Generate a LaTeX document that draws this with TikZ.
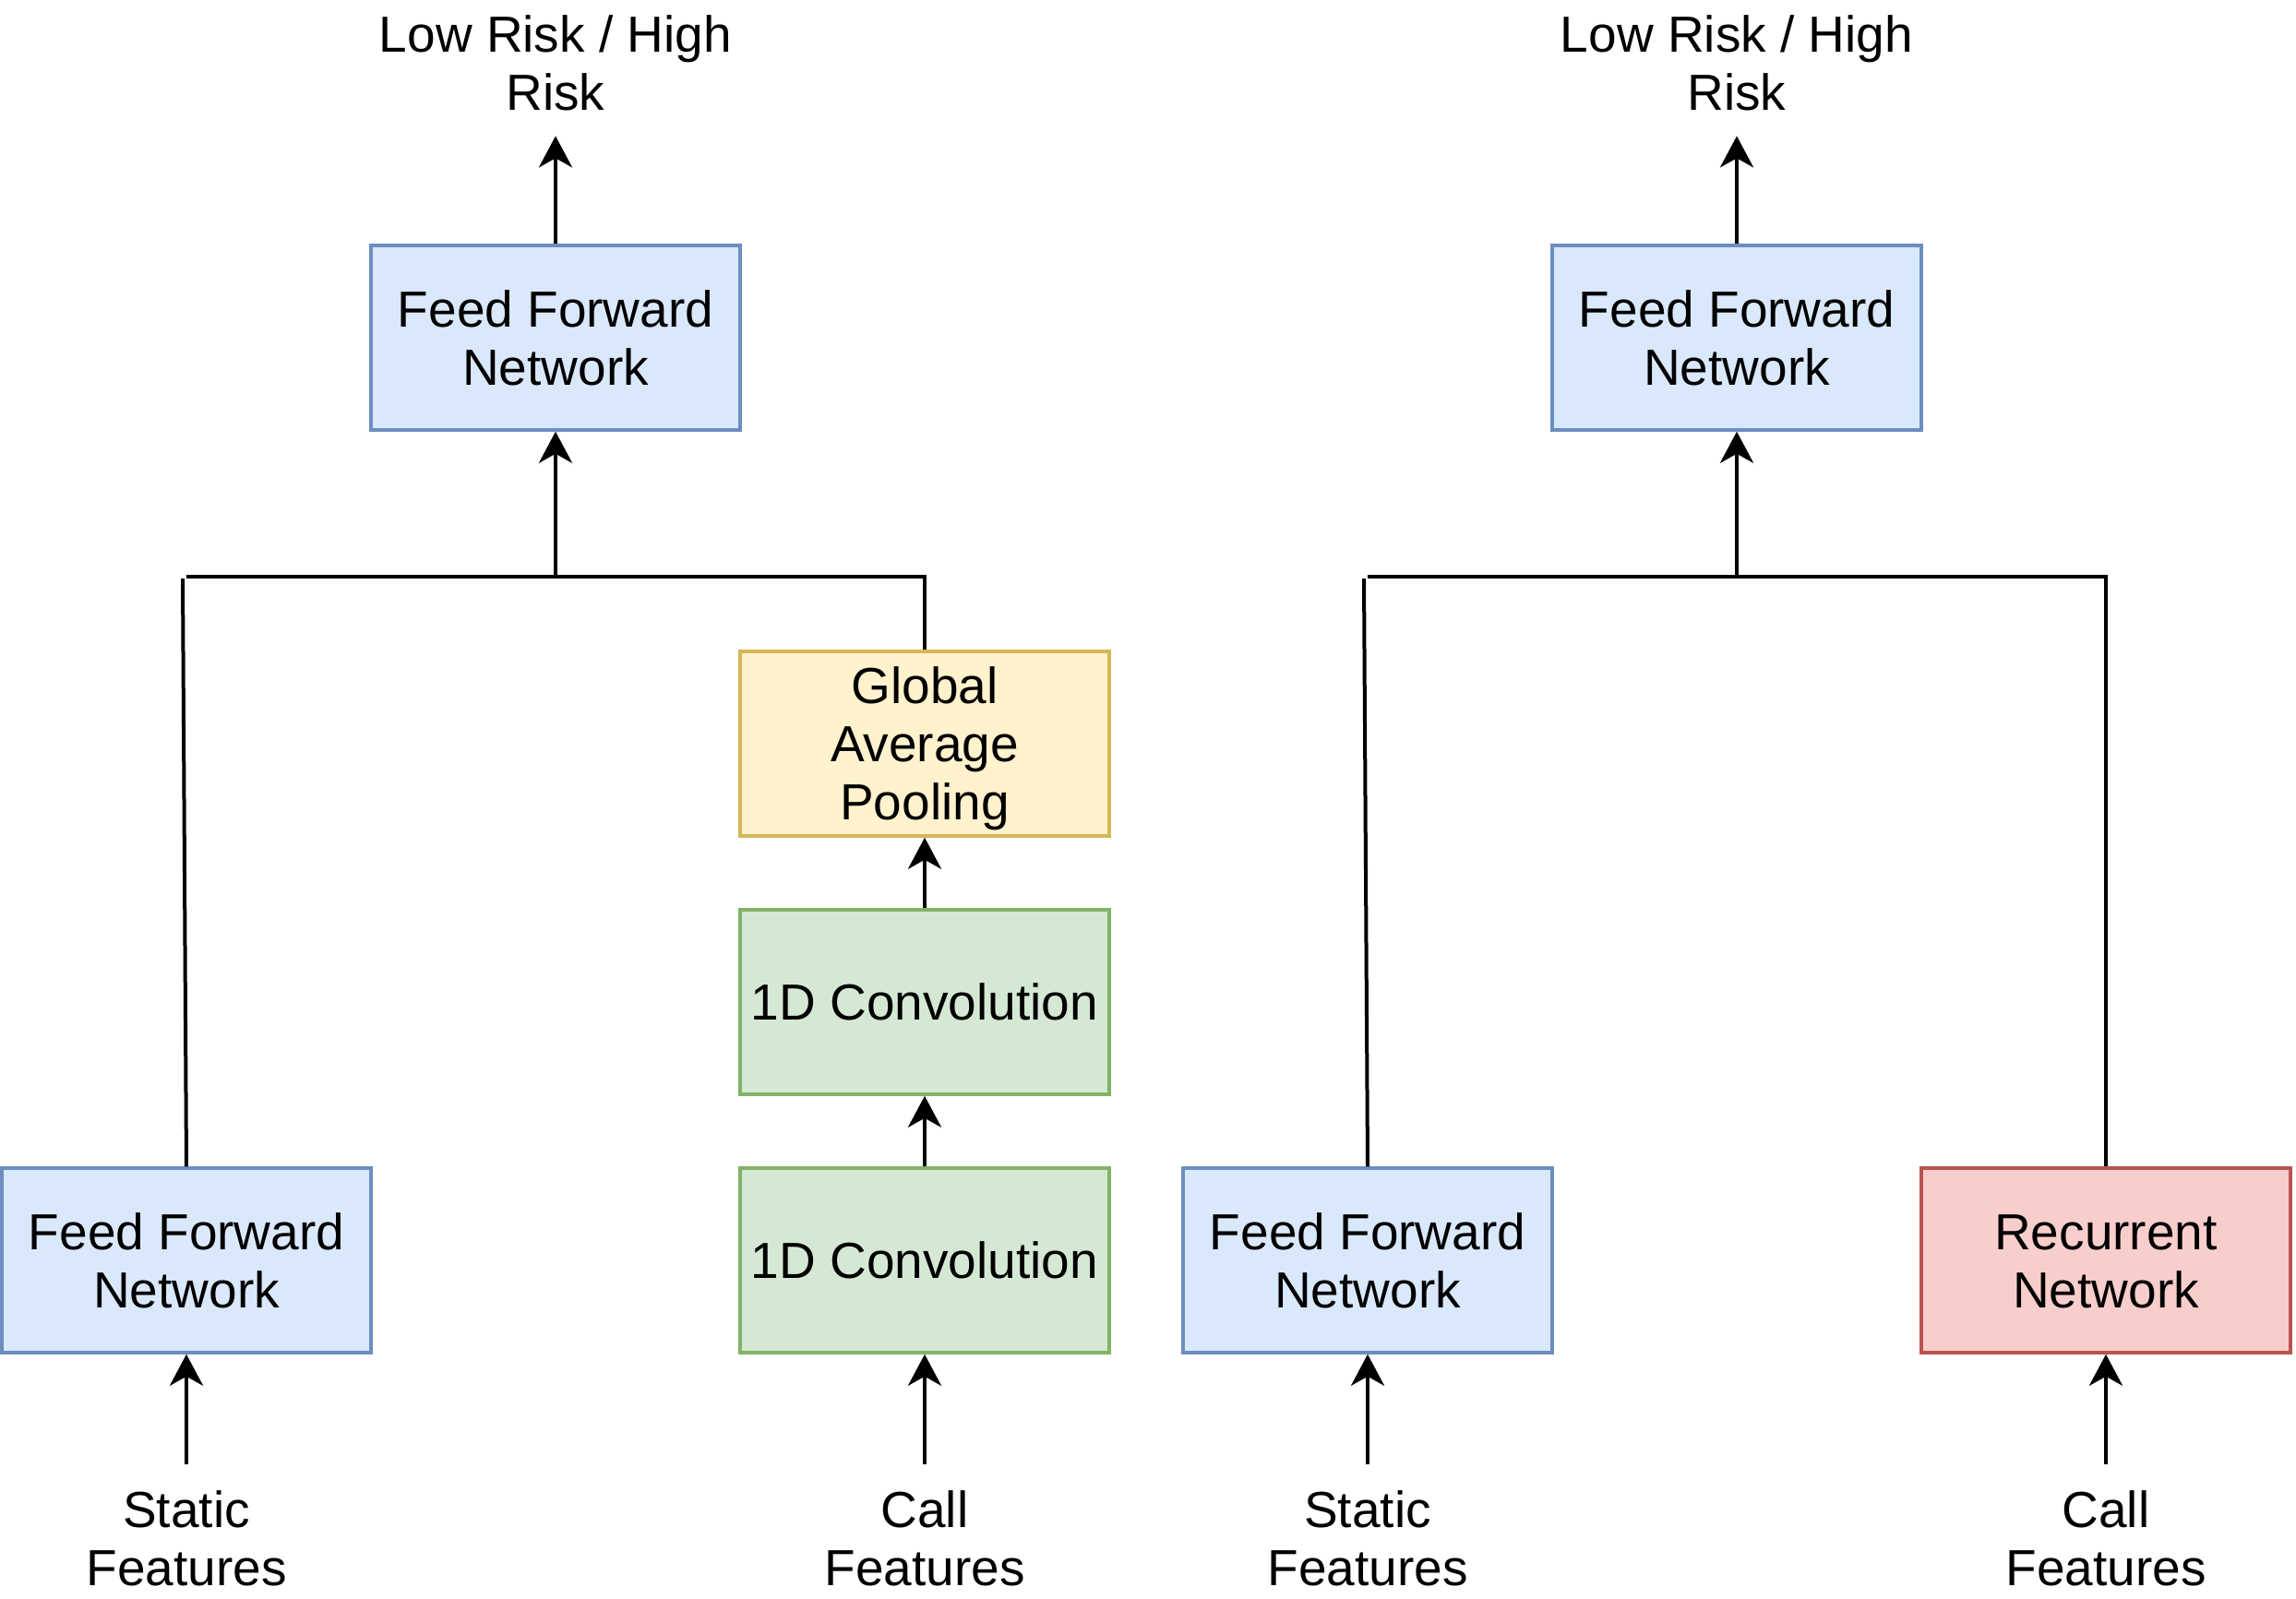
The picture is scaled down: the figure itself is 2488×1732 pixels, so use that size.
\documentclass[tikz,border=0pt]{standalone}
\usepackage{fontspec}
\setmainfont{Liberation Sans}
\usetikzlibrary{arrows.meta}
\definecolor{blueFill}{HTML}{DAE8FC}
\definecolor{blueDraw}{HTML}{6C8EBF}
\definecolor{yellowFill}{HTML}{FFF2CC}
\definecolor{yellowDraw}{HTML}{D6B656}
\definecolor{greenFill}{HTML}{D5E8D4}
\definecolor{greenDraw}{HTML}{82B366}
\definecolor{redFill}{HTML}{F8CECC}
\definecolor{redDraw}{HTML}{B85450}
\newcommand{\lnTop}{\rule{0pt}{51pt}}
\newcommand{\lnBot}{\rule[-12pt]{0pt}{12pt}}
\begin{document}
\begin{tikzpicture}[x=1pt,y=-1pt,
  box/.style={draw, line width=3.5pt, minimum width=400pt, minimum height=200pt,
    inner sep=0pt, align=center, font=\fontsize{55}{63}\selectfont},
  ffn/.style={box, fill=blueFill, draw=blueDraw},
  gapbox/.style={box, fill=yellowFill, draw=yellowDraw},
  convbox/.style={box, fill=greenFill, draw=greenDraw},
  rnnbox/.style={box, fill=redFill, draw=redDraw},
  lbl/.style={inner sep=0pt, align=center, font=\fontsize{55}{63}\selectfont},
  conn/.style={line width=4pt},
  arr/.style={conn, -{Stealth[length=34pt,width=36pt,inset=10pt]}},
]
\useasboundingbox (0,0) rectangle (2488,1732);

% ---------- left model ----------
\node[ffn] (ffnL) at (602,366) {\lnTop Feed Forward\\Network\lnBot};
\node[lbl] (outL) at (602,68.5) {Low Risk / High\\Risk};
\node[ffn] (sffL) at (202,1366) {\lnTop Feed Forward\\Network\lnBot};
\node[gapbox] (gapL) at (1002,806) {\lnTop Global\\Average\\Pooling\lnBot};
\node[convbox] (conv1) at (1002,1086) {\lnTop 1D Convolution\lnBot};
\node[convbox] (conv2) at (1002,1366) {\lnTop 1D Convolution\lnBot};
\node[lbl] (stL) at (202,1667.5) {Static\\Features};
\node[lbl] (caL) at (1002,1667.5) {Call\\Features};

\coordinate (jL) at (602,625);
\coordinate (jLl) at (202,625);
\coordinate (jLr) at (1002,625);
\coordinate (jLtop) at (198,627);

\draw[conn] (jLl) -- (jLr) -- (gapL.north);
\draw[conn] (jLtop) -- (sffL.north);
\draw[arr] (jL) -- (ffnL.south);
\draw[arr, shorten >=27pt] (ffnL.north) -- (outL.south);
\draw[arr] (conv1.north) -- (gapL.south);
\draw[arr] (conv2.north) -- (conv1.south);
\draw[arr, shorten <=29pt] (stL.north) -- (sffL.south);
\draw[arr, shorten <=29pt] (caL.north) -- (conv2.south);

% ---------- right model ----------
\node[ffn] (ffnR) at (1882,366) {\lnTop Feed Forward\\Network\lnBot};
\node[lbl] (outR) at (1882,68.5) {Low Risk / High\\Risk};
\node[ffn] (sffR) at (1482,1366) {\lnTop Feed Forward\\Network\lnBot};
\node[rnnbox] (rnn) at (2282,1366) {\lnTop Recurrent\\Network\lnBot};
\node[lbl] (stR) at (1482,1667.5) {Static\\Features};
\node[lbl] (caR) at (2282,1667.5) {Call\\Features};

\coordinate (jR) at (1882,625);
\coordinate (jRl) at (1482,625);
\coordinate (jRr) at (2282,625);
\coordinate (jRtop) at (1478,627);

\draw[conn] (jRl) -- (jRr) -- (rnn.north);
\draw[conn] (jRtop) -- (sffR.north);
\draw[arr] (jR) -- (ffnR.south);
\draw[arr, shorten >=27pt] (ffnR.north) -- (outR.south);
\draw[arr, shorten <=29pt] (stR.north) -- (sffR.south);
\draw[arr, shorten <=29pt] (caR.north) -- (rnn.south);
\end{tikzpicture}
\end{document}
